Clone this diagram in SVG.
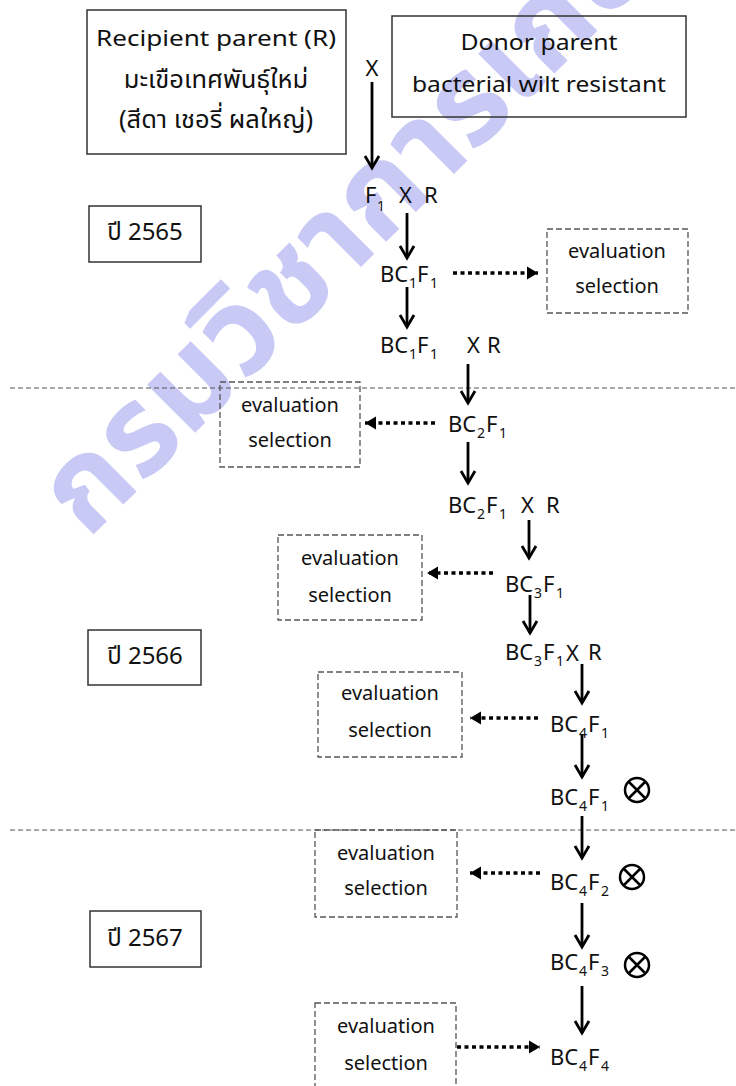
<svg xmlns="http://www.w3.org/2000/svg" width="736" height="1086" viewBox="0 0 736 1086">
<style>
text{font-family:"Noto Sans","Noto Sans Thai","Tahoma","DejaVu Sans",sans-serif;fill:#111}
.lbl{font-size:22px}
.th{font-size:25.5px}
.m{font-size:22px}
.s{font-size:14px}
.ev{font-size:20px;text-anchor:middle}
.yr{font-size:24px;text-anchor:middle}
.box{fill:none;stroke:#333;stroke-width:1.5}
.dbox{fill:none;stroke:#555;stroke-width:1.3;stroke-dasharray:6 3}
.sep{stroke:#555;stroke-width:1;stroke-dasharray:5 3}
.arr{stroke:#000;stroke-width:2.8;fill:none;marker-end:url(#chev)}
.dot{stroke:#000;stroke-width:3.5;fill:none;stroke-dasharray:4 3.5;marker-end:url(#tri)}
.cross circle{fill:none;stroke:#000;stroke-width:2.5}
.cross path{stroke:#000;stroke-width:2.5}
.wm{font-size:124px;font-weight:bold;fill:#c9c9f6}
</style>
<defs>
<marker id="chev" markerUnits="userSpaceOnUse" markerWidth="30" markerHeight="30" refX="0" refY="0" viewBox="-15 -15 30 30" orient="auto" overflow="visible">
<path d="M-12,-7 L0,0 L-12,7" fill="none" stroke="#000" stroke-width="2.8"/>
</marker>
<marker id="tri" markerUnits="userSpaceOnUse" markerWidth="30" markerHeight="30" refX="0" refY="0" viewBox="-15 -15 30 30" orient="auto" overflow="visible">
<path d="M-11,-6.5 L0,0 L-11,6.5 Z" fill="#000"/>
</marker>
</defs>
<rect width="736" height="1086" fill="#fff"/>
<g id="watermark">
<text class="wm" transform="translate(88,540) rotate(-45)">กรมวิชาการเกษตร</text>
</g>
<g id="separators">
<line class="sep" x1="10" y1="388" x2="736" y2="388"/>
<line class="sep" x1="10" y1="830" x2="736" y2="830"/>
</g>
<g id="recipient">
<rect class="box" x="87" y="10" width="259" height="144"/>
<text class="lbl" x="216" y="46" text-anchor="middle" textLength="240" lengthAdjust="spacingAndGlyphs">Recipient parent (R)</text>
<text class="th" x="216" y="88" text-anchor="middle">มะเขือเทศพันธุ์ใหม่</text>
<text class="th" x="216" y="128" text-anchor="middle">(สีดา เชอรี่ ผลใหญ่)</text>
</g>
<g id="donor">
<rect class="box" x="392" y="16" width="294" height="101"/>
<text class="lbl" x="539" y="50" text-anchor="middle" textLength="157" lengthAdjust="spacingAndGlyphs">Donor parent</text>
<text class="lbl" x="539" y="92" text-anchor="middle" textLength="254" lengthAdjust="spacingAndGlyphs">bacterial wilt resistant</text>
</g>
<g id="cross1"><text class="m" x="372" y="76" text-anchor="middle">X</text></g>
<g id="y2565"><rect class="box" x="89" y="206" width="112" height="56"/><text class="yr" x="145" y="240">ปี 2565</text></g>
<g id="y2566"><rect class="box" x="88" y="630" width="113" height="55"/><text class="yr" x="145" y="664">ปี 2566</text></g>
<g id="y2567"><rect class="box" x="90" y="911" width="111" height="56"/><text class="yr" x="145" y="946">ปี 2567</text></g>
<g id="f1xr"><text class="m"><tspan x="365" y="203">F</tspan><tspan class="s" x="377" y="211">1</tspan><tspan x="399" y="203">X</tspan><tspan x="424" y="203">R</tspan></text></g>
<g id="bc1f1"><text class="m"><tspan x="380" y="282">BC</tspan><tspan class="s" x="409" y="288">1</tspan><tspan x="417" y="282">F</tspan><tspan class="s" x="430" y="288">1</tspan></text></g>
<g id="bc1f1xr"><text class="m"><tspan x="380" y="353">BC</tspan><tspan class="s" x="409" y="359">1</tspan><tspan x="417" y="353">F</tspan><tspan class="s" x="430" y="359">1</tspan><tspan x="467" y="353">X</tspan><tspan x="487" y="353">R</tspan></text></g>
<g id="bc2f1"><text class="m"><tspan x="448" y="432">BC</tspan><tspan class="s" x="477" y="438">2</tspan><tspan x="486" y="432">F</tspan><tspan class="s" x="499" y="438">1</tspan></text></g>
<g id="bc2f1xr"><text class="m"><tspan x="448" y="513">BC</tspan><tspan class="s" x="477" y="519">2</tspan><tspan x="486" y="513">F</tspan><tspan class="s" x="499" y="519">1</tspan><tspan x="521" y="513">X</tspan><tspan x="546" y="513">R</tspan></text></g>
<g id="bc3f1"><text class="m"><tspan x="505" y="592">BC</tspan><tspan class="s" x="534" y="598">3</tspan><tspan x="543" y="592">F</tspan><tspan class="s" x="556" y="598">1</tspan></text></g>
<g id="bc3f1xr"><text class="m"><tspan x="505" y="660">BC</tspan><tspan class="s" x="534" y="666">3</tspan><tspan x="543" y="660">F</tspan><tspan class="s" x="556" y="666">1</tspan><tspan x="566" y="661">X</tspan><tspan x="588" y="660">R</tspan></text></g>
<g id="bc4f1"><text class="m"><tspan x="550" y="732">BC</tspan><tspan class="s" x="579" y="738">4</tspan><tspan x="588" y="732">F</tspan><tspan class="s" x="601" y="738">1</tspan></text></g>
<g id="bc4f1s"><text class="m"><tspan x="550" y="805">BC</tspan><tspan class="s" x="579" y="811">4</tspan><tspan x="588" y="805">F</tspan><tspan class="s" x="601" y="811">1</tspan></text>
<g class="cross"><circle cx="637" cy="790" r="12"/><path d="M628.5,781.5 L645.5,798.5 M645.5,781.5 L628.5,798.5"/></g></g>
<g id="bc4f2"><text class="m"><tspan x="550" y="890">BC</tspan><tspan class="s" x="579" y="896">4</tspan><tspan x="588" y="890">F</tspan><tspan class="s" x="601" y="896">2</tspan></text>
<g class="cross"><circle cx="632" cy="877" r="12"/><path d="M623.5,868.5 L640.5,885.5 M640.5,868.5 L623.5,885.5"/></g></g>
<g id="bc4f3"><text class="m"><tspan x="550" y="970">BC</tspan><tspan class="s" x="579" y="976">4</tspan><tspan x="588" y="970">F</tspan><tspan class="s" x="601" y="976">3</tspan></text>
<g class="cross"><circle cx="637" cy="965" r="12"/><path d="M628.5,956.5 L645.5,973.5 M645.5,956.5 L628.5,973.5"/></g></g>
<g id="bc4f4"><text class="m"><tspan x="550" y="1065">BC</tspan><tspan class="s" x="579" y="1071">4</tspan><tspan x="588" y="1065">F</tspan><tspan class="s" x="601" y="1071">4</tspan></text></g>
<g id="eval1"><rect class="dbox" x="547" y="229" width="141" height="84"/><text class="ev" x="617" y="258">evaluation</text><text class="ev" x="617" y="293">selection</text></g>
<g id="eval2"><rect class="dbox" x="220" y="382" width="140" height="85"/><text class="ev" x="290" y="412">evaluation</text><text class="ev" x="290" y="447">selection</text></g>
<g id="eval3"><rect class="dbox" x="278" y="535" width="144" height="85"/><text class="ev" x="350" y="565">evaluation</text><text class="ev" x="350" y="602">selection</text></g>
<g id="eval4"><rect class="dbox" x="318" y="672" width="144" height="85"/><text class="ev" x="390" y="700">evaluation</text><text class="ev" x="390" y="737">selection</text></g>
<g id="eval5"><rect class="dbox" x="315" y="830" width="142" height="87"/><text class="ev" x="386" y="860">evaluation</text><text class="ev" x="386" y="895">selection</text></g>
<g id="eval6"><rect class="dbox" x="315" y="1003" width="141" height="100"/><text class="ev" x="386" y="1033">evaluation</text><text class="ev" x="386" y="1070">selection</text></g>
<g id="connectors">
<line class="arr" x1="372" y1="82" x2="372" y2="168"/>
<line class="arr" x1="407" y1="213" x2="407" y2="258"/>
<line class="arr" x1="407" y1="287" x2="407" y2="327"/>
<line class="arr" x1="468" y1="364" x2="468" y2="403"/>
<line class="arr" x1="468" y1="442" x2="468" y2="483"/>
<line class="arr" x1="529" y1="520" x2="529" y2="558"/>
<line class="arr" x1="530" y1="595" x2="530" y2="633"/>
<line class="arr" x1="582" y1="664" x2="582" y2="703"/>
<line class="arr" x1="582" y1="735" x2="582" y2="777"/>
<line class="arr" x1="582" y1="816" x2="582" y2="858"/>
<line class="arr" x1="582" y1="903" x2="582" y2="947"/>
<line class="arr" x1="582" y1="986" x2="582" y2="1033"/>
<line class="dot" x1="453" y1="273" x2="538" y2="273"/>
<line class="dot" x1="435" y1="423" x2="365" y2="423"/>
<line class="dot" x1="493" y1="573" x2="427" y2="573"/>
<line class="dot" x1="538" y1="718" x2="470" y2="718"/>
<line class="dot" x1="540" y1="873" x2="470" y2="873"/>
<line class="dot" x1="457" y1="1047" x2="540" y2="1047"/>
</g>
</svg>
